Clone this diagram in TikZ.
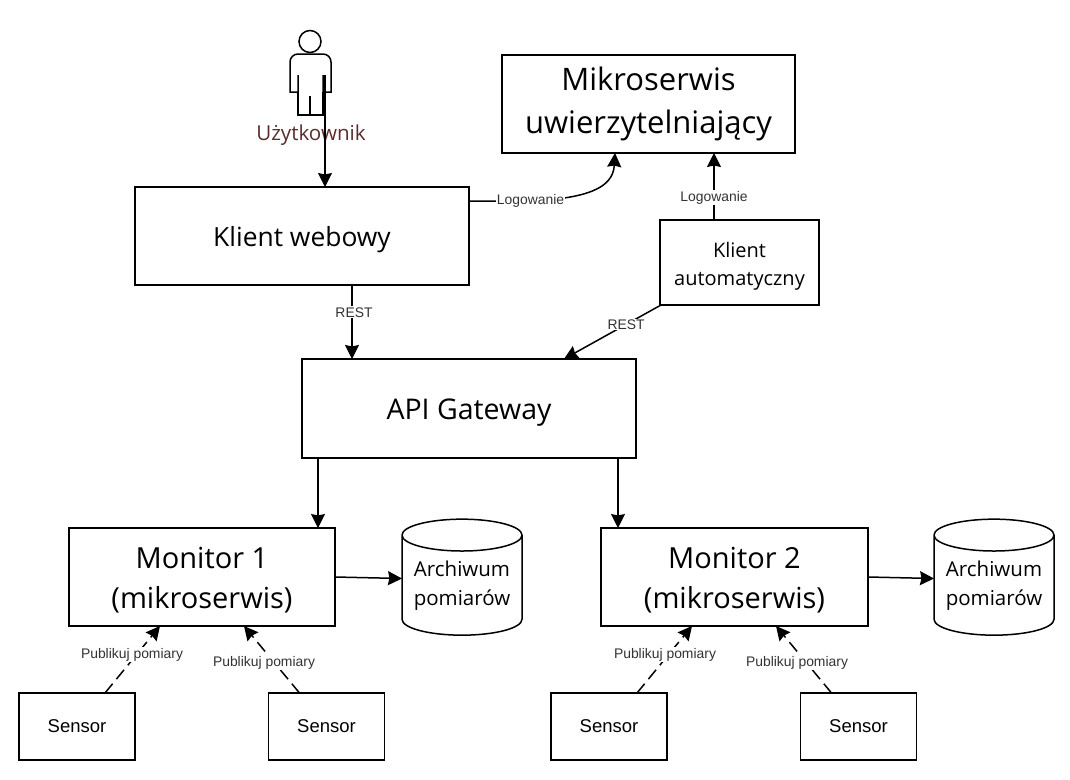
\documentclass[tikz,border=0pt]{standalone}
\usepackage{fontspec}
\setmainfont{Open Sans}
\newfontfamily\arialfont{Liberation Sans}
\usepackage{xcolor}
\usetikzlibrary{calc,shapes.geometric,arrows.meta}
\definecolor{userbrown}{HTML}{5A2D2D}
\newcommand{\fs}[1]{\fontsize{#1}{\the\dimexpr#1pt*7/5\relax}\selectfont}
\begin{document}
\begin{tikzpicture}[
    x=1pt, y=-1pt,
    line width=1.5pt,
    box/.style={draw, align=center, inner sep=0pt, outer sep=0pt},
    textdown/.style={execute at begin node={\rule{0pt}{#1}}},
    big box/.style={box, minimum width=293pt, minimum height=98pt, font=\fs{31}, text width=285pt},
    sensor box/.style={box, minimum width=116pt, minimum height=67pt, font=\arialfont\fs{18.5}},
    monitor text/.style={align=center, inner sep=0pt, font=\fs{29}},
    archive/.style={cylinder, draw, shape border rotate=90, aspect=.33, align=center, inner sep=0pt, outer sep=0pt,
        minimum width=120pt, minimum height=116pt, font=\fs{20.5}},
    pile/.style={-{Stealth[length=14pt,width=14pt,inset=1.5pt]}},
    label/.style={fill=white, inner sep=1pt, font=\arialfont\fs{13.9}, text=black!80}
    ]
    \useasboundingbox (0,0) rectangle (1070,779);
    % User figure
    \draw (310,41.5) circle (11);
    \draw (298,75) -- (298,92) -- (290,92) [rounded corners=8pt] -- (290,54) -- (331,54) [sharp corners] -- (331,92) -- (323,92) -- (323,75);
    \draw (298,92) -- (298,115) -- (323,115) -- (323,92);
    \draw (310,96) -- (310,115);
    \coordinate (user) at (325,75);
    \node[font=\fs{20.6}, text=userbrown, inner sep=0pt] (userlabel) at (311,135) {Użytkownik};
    % Boxes
    \node[big box] (auth) at (648.5,104) {Mikroserwis\\uwierzytelniający};
    \node[box, minimum width=334pt, minimum height=98pt, font=\fs{26.4}, textdown=27pt] (web) at (302,236) {Klient webowy};
    \node[box, minimum width=159pt, minimum height=85pt] (auto) at (739.5,262.5) {};
    \node[align=center, inner sep=0pt, font=\fs{20}] (autotext) at (739.5,266) {Klient\\automatyczny};
    \node[box, minimum width=334pt, minimum height=99pt, font=\fs{28.5}, textdown=28pt] (api) at (469,408.5) {API Gateway};
    \node[box, minimum width=266pt, minimum height=98pt] (mon1) at (202,577) {};
    \node[monitor text] (mon1text) at (202,580) {Monitor 1\\(mikroserwis)};
    \node[box, minimum width=267pt, minimum height=98pt] (mon2) at (734.5,577) {};
    \node[monitor text] (mon2text) at (734.5,580) {Monitor 2\\(mikroserwis)};
    \node[archive] (arch1) at (462,585.5) {Archiwum\\pomiarów};
    \node[archive] (arch2) at (994,585.5) {Archiwum\\pomiarów};
    \node[sensor box] (sens1) at (77,726.5) {Sensor};
    \node[sensor box] (sens2) at (326.5,726.5) {Sensor};
    \node[sensor box] (sens3) at (609,726.5) {Sensor};
    \node[sensor box] (sens4) at (858.5,726.5) {Sensor};
    % Top connectors
    \draw[pile] (user) -- (user |- web.north);
    \draw[pile] ($(web.north east)+(0,14)$) -- +(64,0)
        .. controls +(52,-3) and +(-2,36) .. ($(auth.south west)+(113,0)$);
    \node[label] (log1) at (530.5,200.5) {Logowanie};
    \draw[pile] ($(auto.north west)+(54,0)$) -- ($(auth.south west)+(212,0)$) node[label, pos=.33] (log2) {Logowanie};
    \draw[pile] ($(web.south west)+(217,0)$) -- ($(api.north west)+(50,0)$)
        node[label, pos=.37, xshift=2pt] (rest1) {REST};
    \draw[pile] ($(auto.south west)+(1,0)$) -- ($(api.north west)+(262,0)$)
        node[label, pos=.36] (rest2) {REST};
    % Gateway to monitors
    \draw[pile] ($(api.south west)+(16,0)$) -- ($(mon1.north west)+(249,0)$);
    \draw[pile] ($(api.south west)+(316,0)$) -- ($(mon2.north west)+(17,0)$);
    \draw[pile] (mon1.east) -- ($(arch1.west)+(0,-7)$);
    \draw[pile] (mon2.east) -- ($(arch2.west)+(0,-7)$);
    % Sensors
    \draw[pile, dash pattern=on 12pt off 6pt] ($(sens1.north west)+(86,0)$) -- ($(mon1.south west)+(91,0)$);
    \draw[pile, dash pattern=on 12pt off 6pt] ($(sens2.north west)+(31,0)$) -- ($(mon1.south west)+(175,0)$);
    \draw[pile, dash pattern=on 12pt off 6pt] ($(sens3.north west)+(86,0)$) -- ($(mon2.south west)+(91,0)$);
    \draw[pile, dash pattern=on 12pt off 6pt] ($(sens4.north west)+(31,0)$) -- ($(mon2.south west)+(175,0)$);
    \node[label] (pub1) at (132,654.5) {Publikuj pomiary};
    \node[label] (pub2) at (264,662.5) {Publikuj pomiary};
    \node[label] (pub3) at (665,654.5) {Publikuj pomiary};
    \node[label] (pub4) at (797,662.5) {Publikuj pomiary};
\end{tikzpicture}
\end{document}
